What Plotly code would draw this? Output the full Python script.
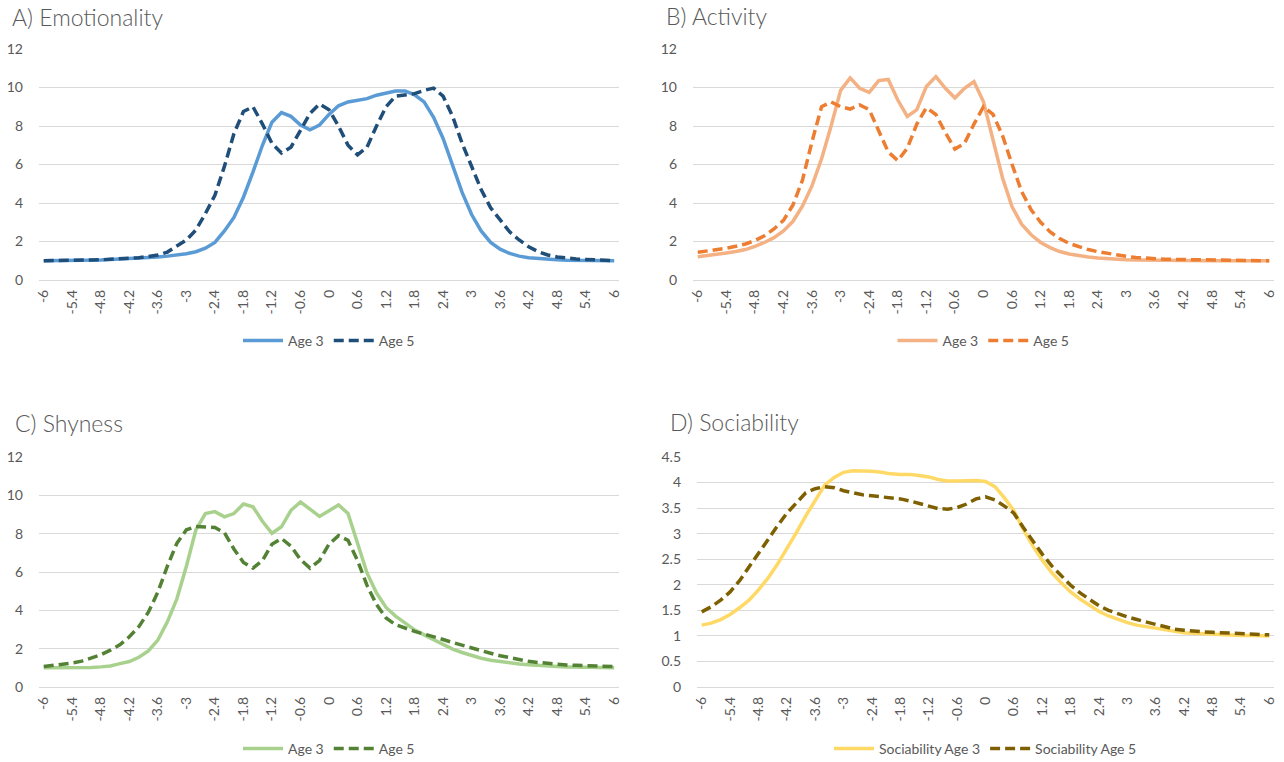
import plotly.graph_objects as go

# Category axis (standardised score bins)
categories = ["-6", "-5.8", "-5.6", "-5.4", "-5.2", "-5", "-4.8", "-4.6", "-4.4", "-4.2",
              "-4", "-3.8", "-3.6", "-3.4", "-3.2", "-3", "-2.8", "-2.6", "-2.4", "-2.2",
              "-2", "-1.8", "-1.6", "-1.4", "-1.2", "-1", "-0.8", "-0.6", "-0.4", "-0.2",
              "0", "0.2", "0.4", "0.6", "0.8", "1", "1.2", "1.4", "1.6", "1.8",
              "2", "2.2", "2.4", "2.6", "2.8", "3", "3.2", "3.4", "3.6", "3.8",
              "4", "4.2", "4.4", "4.6", "4.8", "5", "5.2", "5.4", "5.6", "5.8", "6"]
tick_labels = ["-6", "-5.4", "-4.8", "-4.2", "-3.6", "-3", "-2.4", "-1.8", "-1.2", "-0.6",
               "0", "0.6", "1.2", "1.8", "2.4", "3", "3.6", "4.2", "4.8", "5.4", "6"]

emotionality_age3 = [1.00, 1.00, 1.01, 1.01, 1.02, 1.03, 1.04, 1.06, 1.08, 1.10,
                     1.13, 1.16, 1.20, 1.24, 1.29, 1.36, 1.47, 1.65, 1.95, 2.55,
                     3.25, 4.30, 5.60, 7.00, 8.20, 8.70, 8.50, 8.05, 7.80, 8.05,
                     8.60, 9.05, 9.25, 9.32, 9.42, 9.60, 9.72, 9.82, 9.82, 9.62,
                     9.25, 8.45, 7.35, 5.95, 4.55, 3.40, 2.55, 1.95, 1.60, 1.38,
                     1.24, 1.16, 1.11, 1.08, 1.05, 1.03, 1.02, 1.01, 1.01, 1.00, 1.00]
emotionality_age5 = [1.00, 1.00, 1.01, 1.02, 1.03, 1.04, 1.05, 1.07, 1.09, 1.12,
                     1.16, 1.22, 1.30, 1.45, 1.75, 2.08, 2.60, 3.45, 4.40, 5.90,
                     7.60, 8.75, 9.00, 8.10, 7.10, 6.60, 6.90, 7.80, 8.65, 9.15,
                     8.85, 8.00, 7.00, 6.50, 6.90, 8.00, 9.00, 9.55, 9.62, 9.68,
                     9.85, 9.97, 9.55, 8.50, 7.10, 5.90, 4.70, 3.75, 3.10, 2.50,
                     2.08, 1.73, 1.47, 1.30, 1.20, 1.13, 1.09, 1.07, 1.06, 1.04, 1.00]

activity_age3 = [1.21, 1.26, 1.32, 1.40, 1.48, 1.58, 1.75, 1.95, 2.20, 2.55,
                 3.05, 3.85, 4.90, 6.30, 8.00, 9.85, 10.50, 9.96, 9.75, 10.36,
                 10.42, 9.35, 8.50, 8.85, 10.05, 10.57, 9.96, 9.45, 9.96, 10.30,
                 9.26, 7.30, 5.30, 3.80, 2.90, 2.35, 1.95, 1.68, 1.48, 1.35,
                 1.26, 1.19, 1.14, 1.10, 1.07, 1.05, 1.04, 1.03, 1.02, 1.01,
                 1.01, 1.01, 1.00, 1.00, 1.00, 1.00, 1.00, 1.00, 1.00, 1.00, 1.00]
activity_age5 = [1.44, 1.50, 1.57, 1.65, 1.75, 1.87, 2.05, 2.30, 2.65, 3.10,
                 3.90, 5.20, 7.20, 9.00, 9.25, 9.00, 8.88, 9.10, 8.85, 7.75,
                 6.65, 6.20, 6.85, 8.10, 8.95, 8.60, 7.65, 6.80, 7.10, 8.10,
                 9.00, 8.60, 7.50, 6.00, 4.60, 3.65, 3.00, 2.50, 2.15, 1.90,
                 1.72, 1.58, 1.47, 1.38, 1.30, 1.23, 1.17, 1.13, 1.10, 1.08,
                 1.07, 1.06, 1.05, 1.04, 1.03, 1.03, 1.02, 1.02, 1.01, 1.01, 1.00]

shyness_age3 = [1.00, 1.00, 1.00, 1.01, 1.01, 1.02, 1.05, 1.10, 1.22, 1.33,
                1.55, 1.88, 2.45, 3.40, 4.60, 6.30, 8.20, 9.05, 9.15, 8.88,
                9.05, 9.55, 9.40, 8.65, 8.02, 8.36, 9.22, 9.65, 9.28, 8.90,
                9.20, 9.50, 9.05, 7.50, 5.95, 4.90, 4.15, 3.70, 3.33, 2.98,
                2.72, 2.46, 2.20, 1.98, 1.80, 1.64, 1.50, 1.40, 1.32, 1.25,
                1.20, 1.16, 1.12, 1.09, 1.07, 1.05, 1.04, 1.03, 1.02, 1.01, 1.00]
shyness_age5 = [1.07, 1.12, 1.18, 1.25, 1.35, 1.50, 1.68, 1.92, 2.20, 2.62,
                3.15, 3.90, 4.95, 6.30, 7.50, 8.20, 8.38, 8.35, 8.32, 8.05,
                7.20, 6.50, 6.20, 6.60, 7.45, 7.75, 7.35, 6.65, 6.20, 6.60,
                7.45, 7.90, 7.65, 6.60, 5.30, 4.30, 3.60, 3.25, 3.07, 2.90,
                2.76, 2.64, 2.48, 2.32, 2.17, 2.03, 1.89, 1.76, 1.63, 1.52,
                1.42, 1.34, 1.28, 1.23, 1.18, 1.15, 1.13, 1.11, 1.10, 1.09, 1.07]

sociability_age3 = [1.21, 1.25, 1.32, 1.42, 1.55, 1.70, 1.90, 2.13, 2.40, 2.70,
                    3.02, 3.35, 3.66, 3.95, 4.10, 4.20, 4.23, 4.23, 4.22, 4.20,
                    4.17, 4.16, 4.16, 4.14, 4.11, 4.06, 4.03, 4.03, 4.04, 4.04,
                    4.02, 3.92, 3.70, 3.45, 3.08, 2.76, 2.48, 2.24, 2.04, 1.86,
                    1.72, 1.59, 1.48, 1.39, 1.32, 1.26, 1.21, 1.18, 1.14, 1.11,
                    1.08, 1.06, 1.05, 1.04, 1.03, 1.03, 1.02, 1.01, 1.01, 1.00, 1.00]
sociability_age5 = [1.47, 1.57, 1.70, 1.86, 2.08, 2.35, 2.62, 2.88, 3.15, 3.40,
                    3.60, 3.80, 3.88, 3.92, 3.90, 3.84, 3.80, 3.76, 3.74, 3.72,
                    3.70, 3.68, 3.64, 3.59, 3.53, 3.49, 3.48, 3.51, 3.58, 3.68,
                    3.72, 3.66, 3.54, 3.40, 3.12, 2.86, 2.60, 2.37, 2.17, 1.99,
                    1.84, 1.71, 1.59, 1.50, 1.43, 1.37, 1.32, 1.27, 1.22, 1.17,
                    1.13, 1.11, 1.09, 1.08, 1.07, 1.06, 1.05, 1.04, 1.03, 1.02, 1.02]

W, H = 1284, 762
FONT = "Lato, 'Open Sans', sans-serif"
TEXT = "#595959"
GRID = "#D9D9D9"


def px_x(p):
    return p / W


def px_y(p):
    return 1 - p / H


# panel: title, left/right/top/bottom of plot area in px, y range, dtick, series
panels = [
    dict(title="A) Emotionality", tx=10, ty=17, box=(39, 619, 49, 280), yr=12, dt=2,
         legy=341,
         series=[("Age 3", emotionality_age3, "#5B9BD5", "solid"),
                 ("Age 5", emotionality_age5, "#1F4E79", "dash")]),
    dict(title="B) Activity", tx=664, ty=16, box=(693, 1274, 49, 280), yr=12, dt=2,
         legy=341,
         series=[("Age 3", activity_age3, "#F4B183", "solid"),
                 ("Age 5", activity_age5, "#ED7D31", "dash")]),
    dict(title="C) Shyness", tx=13, ty=423, box=(39, 619, 457, 687), yr=12, dt=2,
         legy=749,
         series=[("Age 3", shyness_age3, "#A9D18E", "solid"),
                 ("Age 5", shyness_age5, "#548235", "dash")]),
    dict(title="D) Sociability", tx=668, ty=422, box=(697, 1274, 457, 687), yr=4.5, dt=0.5,
         legy=749,
         series=[("Sociability Age 3", sociability_age3, "#FFD966", "solid"),
                 ("Sociability Age 5", sociability_age5, "#7F6000", "dash")]),
]

fig = go.Figure()
layout = dict(
    width=W, height=H,
    margin=dict(l=0, r=0, t=0, b=0, autoexpand=False),
    paper_bgcolor="white", plot_bgcolor="white",
    font=dict(family=FONT, color=TEXT, size=14),
    showlegend=True,
    annotations=[],
)

for k, p in enumerate(panels, start=1):
    xa = "x" if k == 1 else f"x{k}"
    ya = "y" if k == 1 else f"y{k}"
    leg = "legend" if k == 1 else f"legend{k}"
    left, right, top, bottom = p["box"]

    for name, vals, color, dash in p["series"]:
        fig.add_trace(go.Scatter(
            x=categories, y=vals, name=name, mode="lines",
            line=dict(color=color, width=3.5,
                      dash="solid" if dash == "solid" else "10px,5px"),
            xaxis=xa, yaxis=ya, legend=leg, hoverinfo="x+y+name",
        ))

    layout[f"xaxis{'' if k == 1 else k}"] = dict(
        domain=[px_x(left), px_x(right)], anchor=ya,
        type="category", categoryorder="array", categoryarray=categories,
        range=[-0.5, len(categories) - 0.5],
        tickmode="array", tickvals=tick_labels, ticktext=tick_labels,
        tickangle=-90, ticks="", ticklabelstandoff=6, automargin=False,
        showgrid=False, zeroline=False, showline=False,
        tickfont=dict(size=14, color=TEXT, family=FONT),
        fixedrange=True,
    )
    layout[f"yaxis{'' if k == 1 else k}"] = dict(
        domain=[px_y(bottom), px_y(top)], anchor=xa,
        range=[0, p["yr"]], dtick=p["dt"], tick0=0,
        showgrid=True, gridcolor=GRID, gridwidth=1,
        zeroline=True, zerolinecolor=GRID, zerolinewidth=1,
        showline=False, ticks="", ticklabelstandoff=15, automargin=False,
        tickfont=dict(size=14, color=TEXT, family=FONT),
        fixedrange=True,
    )
    layout[leg] = dict(
        orientation="h", x=px_x((left + right) / 2), xanchor="center",
        y=px_y(p["legy"]), yanchor="middle",
        bgcolor="rgba(0,0,0,0)", font=dict(size=14, color=TEXT, family=FONT),
        itemwidth=40, tracegroupgap=0,
    )
    layout["annotations"].append(dict(
        text=p["title"], xref="paper", yref="paper",
        x=px_x(p["tx"]), y=px_y(p["ty"]), xanchor="left", yanchor="middle",
        showarrow=False, font=dict(size=23, color=TEXT, family=FONT, weight=300),
    ))

fig.update_layout(**layout)
fig.write_html("out.html")
